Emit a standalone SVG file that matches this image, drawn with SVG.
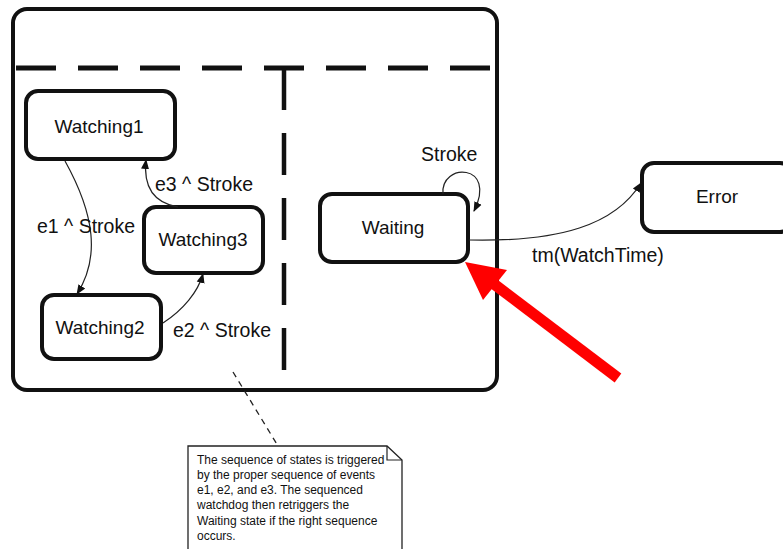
<svg xmlns="http://www.w3.org/2000/svg" width="783" height="549" viewBox="0 0 783 549">
<defs>
<style>
.state{fill:#fff;stroke:#111;stroke-width:4}
.lbl{font-family:"Liberation Sans",Arial,sans-serif;font-size:19.5px;fill:#111}
.name{font-family:"Liberation Sans",Arial,sans-serif;font-size:19px;fill:#111;text-anchor:middle}
.conn{fill:none;stroke:#222;stroke-width:1.2}
.note{font-family:"Liberation Sans",Arial,sans-serif;font-size:12px;fill:#111}
</style>
<marker id="ah" markerUnits="userSpaceOnUse" markerWidth="10" markerHeight="10" viewBox="0 0 10 10" refX="9" refY="5" orient="auto">
<path d="M0,1 L10,5 L0,9 z" fill="#111"/>
</marker>
</defs>
<rect width="783" height="549" fill="#fff"/>
<g id="container">
<rect x="13" y="9" width="484" height="381" rx="14" fill="none" stroke="#111" stroke-width="4"/>
<line x1="15" y1="68" x2="495" y2="68" stroke="#111" stroke-width="5" stroke-dasharray="40 22" stroke-dashoffset="-1"/>
<line x1="284" y1="68" x2="284" y2="372" stroke="#111" stroke-width="4.5" stroke-dasharray="42 23"/>
</g>
<g id="watching1"><rect class="state" x="26" y="91" width="149" height="68" rx="12"/><text class="name" x="99" y="133">Watching1</text></g>
<g id="watching3"><rect class="state" x="144" y="207" width="119" height="66" rx="12"/><text class="name" x="203" y="246">Watching3</text></g>
<g id="watching2"><rect class="state" x="42" y="295" width="119" height="64" rx="12"/><text class="name" x="100" y="334">Watching2</text></g>
<g id="waiting"><rect class="state" x="320" y="194" width="148" height="68" rx="12"/><text class="name" x="393" y="234">Waiting</text></g>
<g id="error"><rect class="state" x="642" y="163" width="150" height="69" rx="12"/><text class="name" x="717" y="203">Error</text></g>
<g id="connectors">
<path class="conn" d="M65,161 C95,215 100,258 77,294" marker-end="url(#ah)"/>
<path class="conn" d="M163,323 C183,310 198,292 203,274" marker-end="url(#ah)"/>
<path class="conn" d="M178,207 C155,203 143,188 146,160" marker-end="url(#ah)"/>
<path class="conn" d="M443,194 C440,162 498,163 474,211" marker-end="url(#ah)"/>
<path class="conn" d="M469,240 C560,242 615,225 641,183" marker-end="url(#ah)"/>
<line x1="233" y1="372" x2="278" y2="446" stroke="#222" stroke-width="1.3" stroke-dasharray="6 5"/>
<text class="lbl" x="37" y="233">e1 ^ Stroke</text>
<text class="lbl" x="155" y="191">e3 ^ Stroke</text>
<text class="lbl" x="173" y="337">e2 ^ Stroke</text>
<text class="lbl" x="421" y="161">Stroke</text>
<text class="lbl" x="532" y="262">tm(WatchTime)</text>
</g>
<g id="note">
<path d="M188,446 L387,446 L402,460 L402,555 L188,555 Z" fill="#fff" stroke="#222" stroke-width="1.3"/>
<path d="M387,446 L387,460 L402,460" fill="none" stroke="#222" stroke-width="1.2"/>
<text class="note" x="197" y="464">The sequence of states is triggered</text>
<text class="note" x="197" y="479">by the proper sequence of events</text>
<text class="note" x="197" y="494">e1, e2, and e3. The sequenced</text>
<text class="note" x="197" y="509">watchdog then retriggers the</text>
<text class="note" x="197" y="525">Waiting state if the right sequence</text>
<text class="note" x="197" y="540">occurs.</text>
</g>
<g id="red-arrow">
<line x1="618" y1="378" x2="490" y2="281" stroke="#ff0000" stroke-width="11"/>
<polygon points="465,262 483,300 507,270" fill="#ff0000"/>
</g>
</svg>
